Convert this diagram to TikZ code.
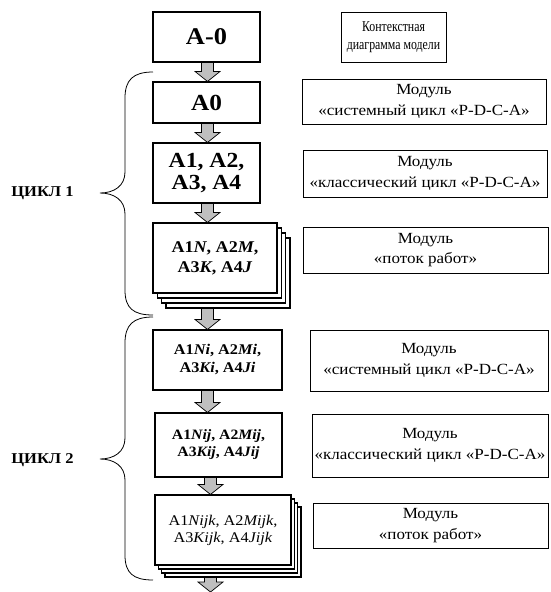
\documentclass[tikz,border=0pt]{standalone}
\usepackage{fontspec}
\setmainfont{Liberation Serif}[FakeStretch=1.1]
\newfontfamily\narrowserif[FakeStretch=0.79]{Liberation Serif}
\usetikzlibrary{calc,shadows}

% gray block arrow between two points, at a given x
\newcommand{\blockarrow}[3]{%
  \draw[flowarr] let \p1=(#1), \p2=(#2) in
    ({(#3-6)*1pt},\y1) -- ({(#3+6)*1pt},\y1) -- ({(#3+6)*1pt},\y2+10pt)
    -- ({(#3+12.5)*1pt},\y2+10pt) -- ({#3*1pt},\y2)
    -- ({(#3-12.5)*1pt},\y2+10pt) -- ({(#3-6)*1pt},\y2+10pt) -- cycle;}

\begin{document}
\begin{tikzpicture}[x=1pt,y=-1pt,
  box/.style={draw,fill=white,line width=1.1pt,inner sep=0pt,align=center},
  modbox/.style={draw,line width=0.7pt,inner sep=0pt,align=center,
    font=\fontsize{15.5}{20.5}\selectfont},
  flowarr/.style={draw=black,line width=0.7pt,fill=black!25},
  brace/.style={line width=0.8pt},
  cycletext/.style={font=\fontsize{15}{18}\selectfont\bfseries},
  stackA/.style={
    copy shadow={shadow xshift=13pt,shadow yshift=-15pt,draw,fill=white},
    copy shadow={shadow xshift=8.7pt,shadow yshift=-10pt,draw,fill=white},
    copy shadow={shadow xshift=4.3pt,shadow yshift=-5pt,draw,fill=white}},
  stackB/.style={
    copy shadow={shadow xshift=10pt,shadow yshift=-12pt,draw,fill=white},
    copy shadow={shadow xshift=6.7pt,shadow yshift=-8pt,draw,fill=white},
    copy shadow={shadow xshift=3.3pt,shadow yshift=-4pt,draw,fill=white}}]
  \useasboundingbox (0,0) rectangle (550,592);

  % left column
  \node[box,minimum width=107,minimum height=50,
    font=\fontsize{24}{26}\selectfont\bfseries] (actx) at (206.5,37) {A-0};
  \node[box,minimum width=107,minimum height=41,
    font=\fontsize{23}{25}\selectfont\bfseries] (a0) at (206.5,102.5) {A0};
  \node[box,minimum width=107,minimum height=60,
    font=\fontsize{21.5}{22}\selectfont\bfseries] (a14) at (206.5,173)
    {A1, A2,\\A3, A4};
  \node[box,stackA,minimum width=124,minimum height=70,
    font=\fontsize{16.4}{20}\selectfont\bfseries] (a1n) at (215,258)
    {A1\textit{N}, A2\textit{M},\\A3\textit{K}, A4\textit{J}};
  \node[box,minimum width=129,minimum height=60,
    font=\fontsize{14.8}{18}\selectfont\bfseries] (a1ni) at (217.5,360)
    {A1\textit{Ni}, A2\textit{Mi},\\A3\textit{Ki}, A4\textit{Ji}};
  \node[box,minimum width=127,minimum height=64,
    font=\fontsize{14.3}{17}\selectfont\bfseries] (a1nij) at (218.5,445)
    {A1\textit{Nij}, A2\textit{Mij},\\A3\textit{Kij}, A4\textit{Jij}};
  \node[box,stackB,minimum width=136,minimum height=70,
    font=\fontsize{14.8}{17}\selectfont] (a1nijk) at (223,530)
    {A1\textit{Nijk}, A2\textit{Mijk},\\A3\textit{Kijk}, A4\textit{Jijk}};
  \coordinate (bottom) at (210.5,592);

  % arrows
  \blockarrow{actx.south}{a0.north}{207.5}
  \blockarrow{a0.south}{a14.north}{207.5}
  \blockarrow{a14.south}{a1n.north}{207.5}
  \blockarrow{[yshift=-15pt]a1n.south}{a1ni.north}{207.5}
  \blockarrow{a1ni.south}{a1nij.north}{207.5}
  \blockarrow{a1nij.south}{a1nijk.north}{210.5}
  \blockarrow{[yshift=-12pt]a1nijk.south}{bottom}{210.5}

  % right column
  \node[modbox,minimum width=105,minimum height=50,
    font=\fontsize{15}{18}\narrowserif] (ctx) at (393.5,37)
    {Контекстная\\диаграмма модели};
  \node[modbox,minimum width=244,minimum height=45] (mod1) at (424,101.5)
    {Модуль\\«системный цикл «P-D-C-A»};
  \node[modbox,minimum width=244,minimum height=47] (mod2) at (425,173.5)
    {Модуль\\«классический цикл «P-D-C-A»};
  \node[modbox,minimum width=245,minimum height=46] (mod3) at (425.5,250)
    {Модуль\\«поток работ»};
  \node[modbox,minimum width=238,minimum height=61] (mod4) at (429,360.5)
    {Модуль\\«системный цикл «P-D-C-A»};
  \node[modbox,minimum width=236,minimum height=63] (mod5) at (430,445.5)
    {Модуль\\«классический цикл «P-D-C-A»};
  \node[modbox,minimum width=235,minimum height=45] (mod6) at (430.5,525.5)
    {Модуль\\«поток работ»};

  % braces
  \draw[brace] (153,72) .. controls (133,72) and (125,80) .. (125,98)
    -- (125,172) .. controls (125,186) and (114,193) .. (100,193)
    .. controls (114,193) and (125,200) .. (125,214)
    -- (125,290) .. controls (125,308) and (133,315) .. (153,315);
  \draw[brace] (153,317) .. controls (133,317) and (125,325) .. (125,343)
    -- (125,438) .. controls (125,452) and (114,459) .. (100,459)
    .. controls (114,459) and (125,466) .. (125,480)
    -- (125,555) .. controls (125,573) and (133,580) .. (153,580);
  \node[cycletext] (c1) at (42.5,193) {ЦИКЛ 1};
  \node[cycletext] (c2) at (42.5,460) {ЦИКЛ 2};
\end{tikzpicture}
\end{document}
